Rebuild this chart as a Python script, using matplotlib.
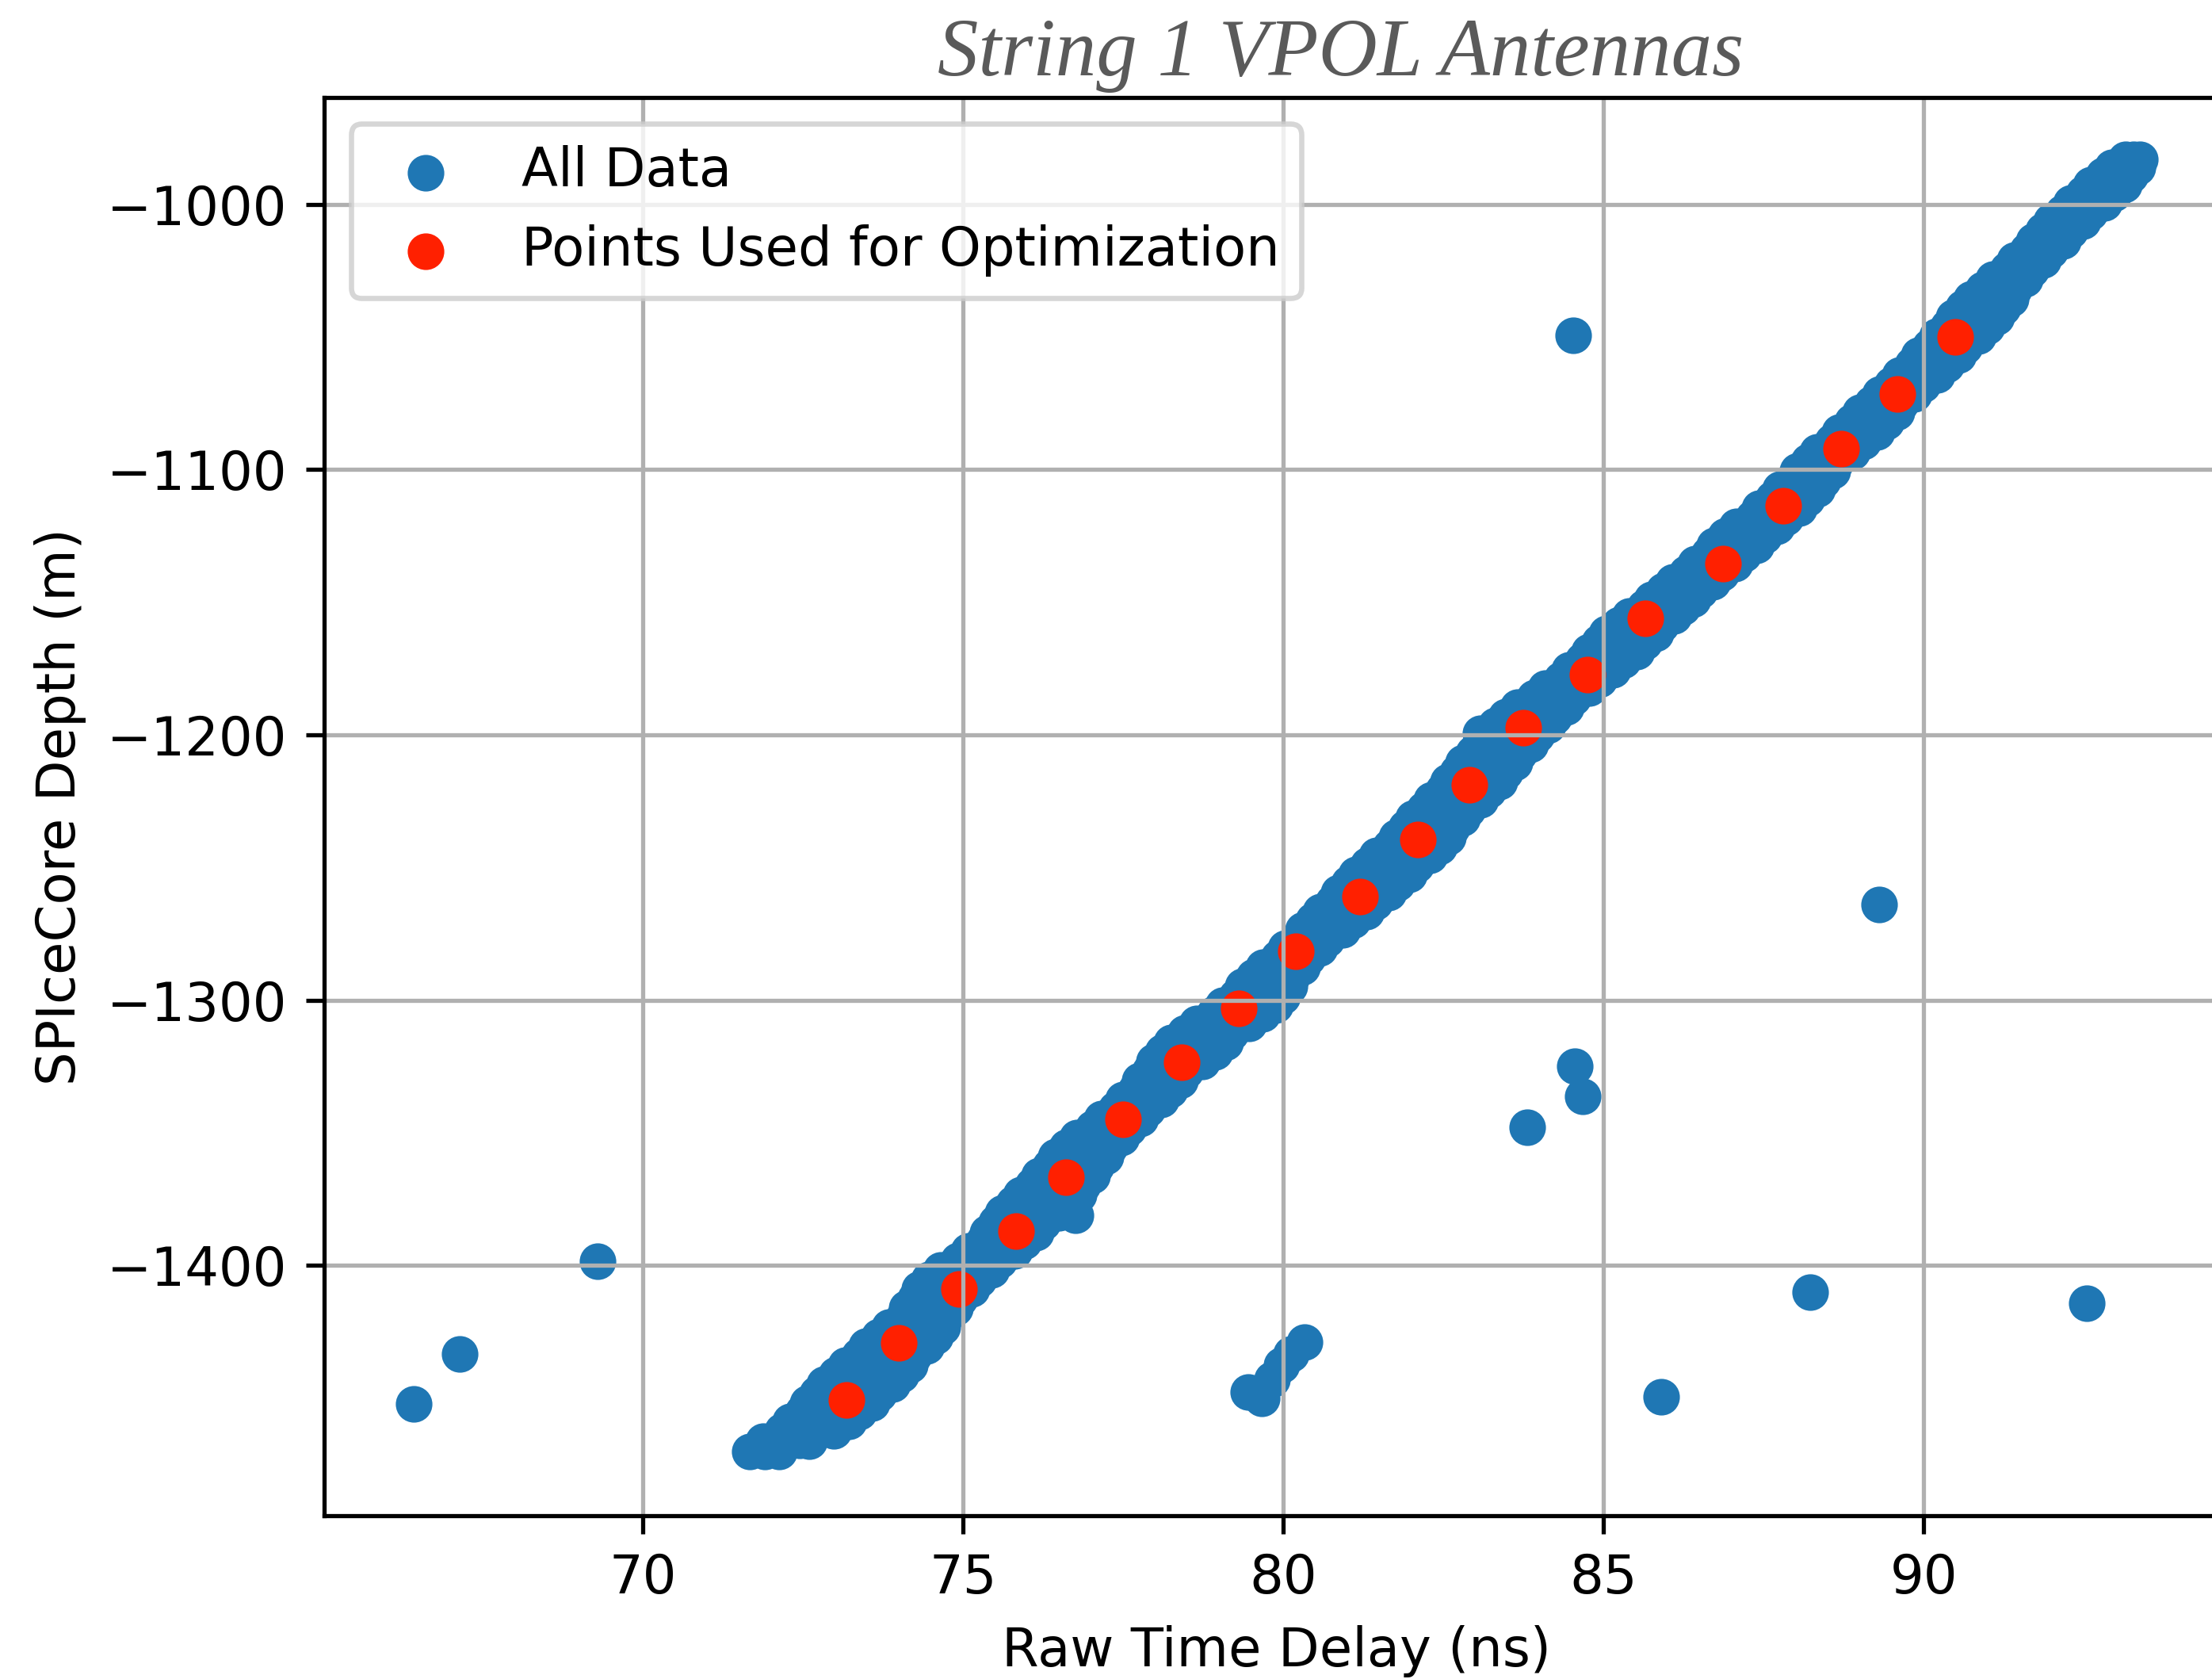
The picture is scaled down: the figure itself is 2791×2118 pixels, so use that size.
import matplotlib
matplotlib.use("Agg")
import matplotlib.pyplot as plt

# SPIceCore depth vs raw time delay, string 1 VPOL antennas

# main band of points, one row per depth: left edge, middle and right edge of the band
band_depth = [-1470.0, -1462.5, -1455.3, -1448.2, -1441.0, -1433.9, -1426.8, -1419.6, -1412.5, -1405.3,
              -1398.1, -1391.0, -1383.9, -1376.7, -1369.6, -1362.4, -1355.3, -1348.1, -1341.0, -1333.8,
              -1326.7, -1319.5, -1312.4, -1305.2, -1298.5, -1291.0, -1284.0, -1277.0, -1270.0, -1263.0,
              -1256.0, -1249.0, -1242.0, -1235.0, -1228.0, -1221.0, -1214.0, -1207.0, -1200.0, -1193.0,
              -1186.0, -1179.0, -1172.0, -1165.0, -1158.5, -1152.0, -1145.5, -1139.0, -1132.0, -1125.0,
              -1118.0, -1111.0, -1104.0, -1097.0, -1089.5, -1082.0, -1075.0, -1068.0, -1060.5, -1053.5,
              -1046.0, -1039.0, -1032.0, -1024.5, -1017.5, -1010.0, -1003.0, -996.0, -989.0, -983.0]
band_left = [71.67, 72.17, 72.50, 72.72, 73.02, 73.37, 73.69, 74.07, 74.25, 74.46,
             74.92, 75.32, 75.52, 75.79, 76.09, 76.36, 76.62, 77.02, 77.39, 77.69,
             77.92, 78.12, 78.46, 78.92, 79.27, 79.54, 79.92, 80.22, 80.47, 80.77,
             81.02, 81.32, 81.67, 81.92, 82.20, 82.50, 82.72, 82.97, 83.22, 83.47,
             83.92, 84.34, 84.68, 84.94, 85.24, 85.64, 85.94, 86.30, 86.64, 86.90,
             87.33, 87.64, 87.94, 88.20, 88.57, 88.88, 89.19, 89.50, 89.82, 90.10,
             90.38, 90.62, 90.93, 91.31, 91.62, 91.87, 92.18, 92.49, 92.80, 93.15]
band_mid = [71.90, 72.57, 72.94, 73.20, 73.52, 73.80, 74.12, 74.39, 74.60, 74.85,
            75.25, 75.63, 75.88, 76.22, 76.48, 76.72, 76.95, 77.30, 77.63, 77.96,
            78.20, 78.52, 78.82, 79.30, 79.62, 79.83, 80.15, 80.45, 80.78, 81.10,
            81.40, 81.70, 82.05, 82.28, 82.54, 82.85, 83.09, 83.33, 83.59, 83.85,
            84.23, 84.64, 84.99, 85.29, 85.57, 85.94, 86.22, 86.57, 86.92, 87.21,
            87.59, 87.91, 88.19, 88.42, 88.81, 89.15, 89.42, 89.74, 90.09, 90.37,
            90.68, 90.93, 91.17, 91.50, 91.80, 92.08, 92.39, 92.73, 93.01, 93.27]
band_right = [72.13, 72.98, 73.38, 73.68, 74.03, 74.23, 74.56, 74.71, 74.95, 75.24,
              75.57, 75.95, 76.25, 76.66, 76.87, 77.08, 77.29, 77.58, 77.88, 78.23,
              78.47, 78.93, 79.18, 79.68, 79.98, 80.13, 80.38, 80.68, 81.08, 81.43,
              81.78, 82.08, 82.43, 82.63, 82.88, 83.20, 83.46, 83.68, 83.96, 84.23,
              84.53, 84.93, 85.30, 85.64, 85.90, 86.23, 86.50, 86.84, 87.19, 87.51,
              87.84, 88.18, 88.43, 88.63, 89.05, 89.42, 89.64, 89.98, 90.36, 90.64,
              90.98, 91.23, 91.41, 91.68, 91.98, 92.29, 92.60, 92.97, 93.22, 93.38]

# the same band read again half way between the rows above
band2_depth = [-1466.2, -1458.9, -1451.8, -1444.6, -1437.5, -1430.4, -1423.2, -1416.0, -1408.9, -1401.7,
               -1394.5, -1387.5, -1380.3, -1373.2, -1366.0, -1358.9, -1351.7, -1344.5, -1337.4, -1330.2,
               -1323.1, -1316.0, -1308.8, -1301.8, -1294.8, -1287.5, -1280.5, -1273.5, -1266.5, -1259.5,
               -1252.5, -1245.5, -1238.5, -1231.5, -1224.5, -1217.5, -1210.5, -1203.5, -1196.5, -1189.5,
               -1182.5, -1175.5, -1168.5, -1161.8, -1155.3, -1148.8, -1142.3, -1135.5, -1128.5, -1121.5,
               -1114.5, -1107.5, -1100.5, -1093.3, -1085.8, -1078.5, -1071.5, -1064.3, -1057.0, -1049.8,
               -1042.5, -1035.5, -1028.3, -1021.0, -1013.8, -1006.5, -999.5, -992.5, -986.0]
band2_left = [71.88, 72.30, 72.57, 72.83, 73.16, 73.49, 73.84, 74.12, 74.32, 74.65,
              75.08, 75.38, 75.62, 75.90, 76.18, 76.45, 76.78, 77.16, 77.50, 77.76,
              77.98, 78.25, 78.65, 79.05, 79.37, 79.69, 80.03, 80.30, 80.58, 80.86,
              81.13, 81.46, 81.76, 82.02, 82.31, 82.57, 82.81, 83.06, 83.31, 83.66,
              84.09, 84.47, 84.77, 85.05, 85.40, 85.75, 86.08, 86.43, 86.73, 87.08,
              87.44, 87.75, 88.03, 88.34, 88.69, 89.00, 89.31, 89.62, 89.92, 90.20,
              90.46, 90.74, 91.08, 91.42, 91.71, 91.99, 92.30, 92.61, 92.94]
band2_right = [72.60, 73.22, 73.57, 73.90, 74.17, 74.43, 74.67, 74.87, 75.13, 75.44,
               75.80, 76.14, 76.49, 76.80, 77.01, 77.22, 77.47, 77.77, 78.09, 78.39,
               78.74, 79.09, 79.47, 79.87, 80.09, 80.29, 80.57, 80.92, 81.29, 81.64,
               81.97, 82.29, 82.57, 82.79, 83.08, 83.37, 83.61, 83.86, 84.13, 84.42,
               84.77, 85.15, 85.51, 85.81, 86.10, 86.40, 86.71, 87.05, 87.39, 87.71,
               88.05, 88.34, 88.57, 88.88, 89.27, 89.57, 89.85, 90.21, 90.54, 90.85,
               91.14, 91.36, 91.58, 91.87, 92.17, 92.48, 92.82, 93.13, 93.34]

# small bumps on the band
extra_delay = [71.95, 72.45, 76.75, 83.08]
extra_depth = [-1468.0, -1466.0, -1381.0, -1199.5]

# stray points away from the band
outlier_delay = [66.42, 67.14, 69.29, 84.52, 89.30, 84.55, 84.67, 83.81, 88.22, 92.55,
                 85.90, 79.45, 79.66, 79.82, 79.97, 80.12, 80.33]
outlier_depth = [-1452.1, -1433.4, -1398.5, -1049.5, -1264.0, -1324.8, -1336.3, -1348.0, -1410.2, -1414.3,
                 -1449.5, -1447.8, -1450.2, -1443.0, -1437.5, -1433.5, -1429.0]

# points used for the optimization
opt_delay = [73.18, 74.00, 74.93, 75.82, 76.60, 77.50, 78.41, 79.30, 80.20, 81.20,
             82.10, 82.91, 83.74, 84.75, 85.65, 86.86, 87.81, 88.71, 89.59, 90.49]
opt_depth = [-1450.8, -1429.3, -1408.8, -1387.1, -1366.6, -1345.0, -1323.3, -1303.1, -1281.7, -1261.1,
             -1239.4, -1218.9, -1197.3, -1177.2, -1156.0, -1135.3, -1113.7, -1092.0, -1071.6, -1050.0]

all_delay = (band_left + band_mid + band_right + band2_left + band2_right
             + extra_delay + outlier_delay)
all_depth = band_depth * 3 + band2_depth * 2 + extra_depth + outlier_depth

plt.rcParams['font.size'] = 10.2

DPI = 475
fig = plt.figure(figsize=(2791 / DPI, 2118 / DPI), dpi=DPI)
ax = fig.add_axes([0.1465, 0.0973, 0.8613, 0.8447])

ax.scatter(all_delay, all_depth, color='#1f77b4', label='All Data')
ax.scatter(opt_delay, opt_depth, color='#ff2000', label='Points Used for Optimization')

ax.set_axisbelow('line')
ax.grid(True, color='#b0b0b0', linewidth=0.8)
ax.set_xlim(65.02, 94.77)
ax.set_ylim(-1494.3, -959.7)
ax.set_xticks([70, 75, 80, 85, 90])
ax.set_yticks([-1400, -1300, -1200, -1100, -1000])
ax.set_xlabel('Raw Time Delay (ns)')
ax.set_ylabel('SPIceCore Depth (m)')
ax.legend(loc='upper left')

fig.text(0.606, 0.955, 'String 1 VPOL Antennas', family=['Liberation Serif', 'DejaVu Serif'],
         style='italic', fontsize=15.6, color='#5a5a5a', ha='center', va='baseline')

fig.savefig('out.png', dpi=DPI)
